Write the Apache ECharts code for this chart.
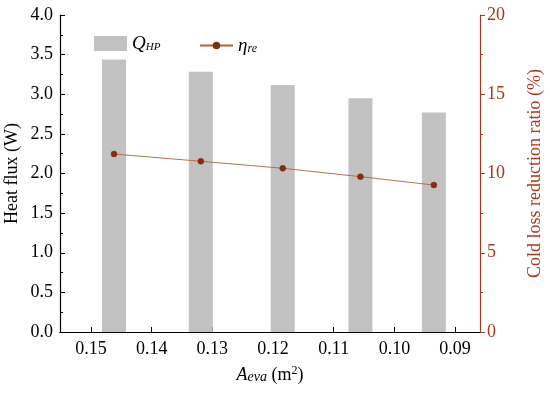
<!DOCTYPE html>
<html>
<head>
<meta charset="utf-8">
<script src="https://cdn.jsdelivr.net/npm/echarts@6/dist/echarts.min.js"></script>
<style>html,body{margin:0;padding:0;background:#fff}#c{width:550px;height:395px}</style>
</head>
<body>
<div id="c"></div>
<script>
// Data
const areas = [0.1462, 0.1319, 0.1184, 0.1056, 0.0935];   // A_eva (m2)
const heatFlux = [3.44, 3.285, 3.117, 2.95, 2.77];       // Q_HP (W)
const ratio = [11.23, 10.77, 10.33, 9.80, 9.27];         // eta_re (%)
const xTicks = [0.15, 0.14, 0.13, 0.12, 0.11, 0.10, 0.09];

const FONT = '"Liberation Serif", "Times New Roman", serif';
const RED = '#a8381c';
const chart = echarts.init(document.getElementById('c'), null, {renderer: 'canvas'});
chart.setOption({
  animation: false,
  backgroundColor: '#fff',
  textStyle: {fontFamily: FONT},
  grid: {left: 60, top: 15, right: 70, bottom: 63, containLabel: false, outerBoundsMode: 'none'},
  legend: [{
    data: [{name: 'Q', icon: 'rect'}],
    left: 89, top: 29,
    itemWidth: 33, itemHeight: 15, itemGap: 8,
    formatter: () => '{i|Q}{s|HP}',
    textStyle: {rich: {
      i: {fontFamily: FONT, fontStyle: 'italic', fontSize: 19, color: '#000'},
      s: {fontFamily: FONT, fontStyle: 'italic', fontSize: 11, color: '#000', padding: [7, 0, 0, 0]}
    }}
  }, {
    data: ['eta'],
    left: 194, top: 31,
    itemWidth: 33, itemHeight: 7, itemGap: 8,
    formatter: () => '{i|η}{s|re}',
    textStyle: {rich: {
      i: {fontFamily: FONT, fontStyle: 'italic', fontSize: 19, color: '#000'},
      s: {fontFamily: FONT, fontStyle: 'italic', fontSize: 12, color: '#000', padding: [7, 0, 0, 0]}
    }}
  }],
  xAxis: [{
    type: 'value',
    inverse: true,
    min: 0.0859, max: 0.1551,
    position: 'bottom',
    splitLine: {show: false},
    axisLine: {lineStyle: {color: '#000', width: 1.2}},
    axisTick: {inside: true, length: 5, lineStyle: {color: '#000'}, customValues: xTicks},
    axisLabel: {customValues: xTicks, formatter: v => v.toFixed(2), fontFamily: FONT, fontSize: 18, color: '#000', margin: 8},
    name: '{i|A}{s|eva}{n| (m}{p|2}{n|)}',
    nameLocation: 'middle',
    nameGap: 33,
    nameTextStyle: {rich: {
      i: {fontFamily: FONT, fontStyle: 'italic', fontSize: 18, color: '#000'},
      s: {fontFamily: FONT, fontStyle: 'italic', fontSize: 14, color: '#000', padding: [4, 0, 0, 0]},
      n: {fontFamily: FONT, fontSize: 18, color: '#000'},
      p: {fontFamily: FONT, fontSize: 12, color: '#000', padding: [0, 0, 8, 0]}
    }}
  }, {
    type: 'value',
    inverse: true,
    min: 0.0859, max: 0.1551,
    position: 'top',
    splitLine: {show: false},
    axisLine: {lineStyle: {color: '#000', width: 1.2}},
    axisTick: {show: false},
    axisLabel: {show: false}
  }],
  yAxis: [{
    type: 'value',
    min: 0, max: 4, interval: 0.5,
    position: 'left',
    splitLine: {show: false},
    axisLine: {show: true, lineStyle: {color: '#000', width: 1.2}},
    axisTick: {show: true, inside: true, length: 5, lineStyle: {color: '#000'}},
    minorTick: {show: true, splitNumber: 2, length: 3, lineStyle: {color: '#000'}},
    axisLabel: {formatter: v => v.toFixed(1), fontFamily: FONT, fontSize: 18, color: '#000', margin: 7},
    name: 'Heat flux (W)',
    nameLocation: 'middle',
    nameGap: 39,
    nameMoveOverlap: false,
    nameTextStyle: {fontFamily: FONT, fontSize: 18, color: '#000'}
  }, {
    type: 'value',
    min: 0, max: 20, interval: 5,
    position: 'right',
    splitLine: {show: false},
    axisLine: {show: true, lineStyle: {color: RED, width: 1.2}},
    axisTick: {show: true, inside: false, length: 5, lineStyle: {color: RED}},
    minorTick: {show: true, splitNumber: 2, length: 3, lineStyle: {color: RED}},
    axisLabel: {fontFamily: FONT, fontSize: 18, color: RED, margin: 7},
    name: 'Cold loss reduction ratio (%)',
    nameLocation: 'middle',
    nameGap: 46,
    nameMoveOverlap: false,
    nameRotate: 90,
    nameTextStyle: {fontFamily: FONT, fontSize: 18, color: RED}
  }],
  series: [{
    name: 'Q',
    type: 'bar',
    xAxisIndex: 0, yAxisIndex: 0,
    barWidth: 24,
    itemStyle: {color: '#c2c2c2'},
    data: areas.map((x, i) => [x, heatFlux[i]])
  }, {
    name: 'eta',
    type: 'line',
    xAxisIndex: 0, yAxisIndex: 1,
    symbol: 'circle',
    symbolSize: 6,
    lineStyle: {color: '#b4603f', width: 0.9},
    itemStyle: {color: '#8a2a10', borderColor: '#6e3a0e', borderWidth: 0.5},
    data: areas.map((x, i) => [x, ratio[i]])
  }]
});
</script>
</body>
</html>
